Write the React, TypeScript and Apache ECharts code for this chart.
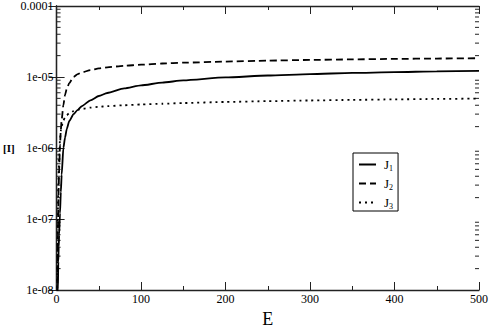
import React, { useEffect, useRef } from "react";
import * as echarts from "echarts";

// Energy values (x axis)
const energy = [0.5, 1, 1.5, 2, 2.5, 3, 4, 5, 6, 8, 10, 12, 15, 20, 25, 30, 40, 50, 60, 80, 100, 125, 150, 200, 250, 300, 350, 400, 450, 500];

// Series values
const j1 = [1e-9, 4e-9, 1e-8, 2.5e-8, 4e-8, 6e-8, 1.2e-7, 2.4e-7, 4.2e-7, 1.0e-6, 1.4e-6, 1.85e-6, 2.4e-6, 3.0e-6, 3.45e-6, 3.9e-6, 4.7e-6, 5.4e-6, 5.95e-6, 6.9e-6, 7.6e-6, 8.35e-6, 8.95e-6, 9.85e-6, 1.05e-5, 1.10e-5, 1.14e-5, 1.17e-5, 1.20e-5, 1.22e-5];
const j2 = [3e-9, 1.5e-8, 6e-8, 1.5e-7, 3e-7, 5e-7, 1.1e-6, 1.8e-6, 2.5e-6, 4.0e-6, 5.6e-6, 6.8e-6, 8.2e-6, 1.0e-5, 1.1e-5, 1.16e-5, 1.25e-5, 1.32e-5, 1.37e-5, 1.44e-5, 1.49e-5, 1.55e-5, 1.59e-5, 1.65e-5, 1.70e-5, 1.74e-5, 1.77e-5, 1.80e-5, 1.82e-5, 1.84e-5];
const j3 = [5e-9, 3e-8, 1.2e-7, 3e-7, 5e-7, 7.5e-7, 1.3e-6, 1.75e-6, 2.05e-6, 2.45e-6, 2.7e-6, 2.9e-6, 3.1e-6, 3.3e-6, 3.45e-6, 3.55e-6, 3.7e-6, 3.8e-6, 3.88e-6, 4.0e-6, 4.1e-6, 4.2e-6, 4.3e-6, 4.45e-6, 4.57e-6, 4.67e-6, 4.76e-6, 4.84e-6, 4.91e-6, 4.97e-6];

const seriesNames = ["J1", "J2", "J3"];

// Tick labels
const yTickLabels = ["1e-08", "1e-07", "1e-06", "1e-05", "0.0001"];
const yDecades = [1e-8, 1e-7, 1e-6, 1e-5];
const yMinorMultipliers = [2, 3, 4, 5, 6, 7, 8, 9];

const FONT = "'Liberation Serif', 'DejaVu Serif', serif";

export default function App() {
  const ref = useRef<HTMLDivElement>(null);
  useEffect(() => {
    if (!ref.current) return;
    const chart = echarts.init(ref.current, null, { renderer: "svg" });
    const pairs = (vals: number[]) => energy.map((e, i) => [e, vals[i]]);
    const minorData: number[][] = [];
    yDecades.forEach((d) => yMinorMultipliers.forEach((m) => minorData.push([0, m * d])));

    const axisLine = { show: true, lineStyle: { color: "#222", width: 1.3 } };
    const lineStyleBase = { color: "#000", width: 1.8 };
    const tickStyle = { color: "#222", width: 1 };

    chart.setOption({
      animation: false,
      backgroundColor: "#fff",
      grid: { left: 54, right: 10, top: 5, bottom: 31, containLabel: false },
      xAxis: [
        {
          type: "value",
          min: 0,
          max: 500,
          interval: 100,
          position: "bottom",
          name: "E",
          nameLocation: "middle",
          nameGap: 20,
          nameTextStyle: { fontFamily: FONT, fontSize: 18, color: "#000" },
          axisLine,
          axisTick: { show: true, inside: true, length: 8, lineStyle: tickStyle },
          minorTick: { show: true, splitNumber: 2, length: 4, lineStyle: tickStyle },
          axisLabel: { fontFamily: FONT, fontSize: 12, color: "#000", margin: 3 },
          splitLine: { show: false },
        },
        {
          type: "value",
          min: 0,
          max: 500,
          interval: 100,
          position: "top",
          axisLine,
          axisTick: { show: true, inside: true, length: 8, lineStyle: tickStyle },
          minorTick: { show: true, splitNumber: 2, length: 4, lineStyle: tickStyle },
          axisLabel: { show: false },
          splitLine: { show: false },
        },
      ],
      yAxis: [
        {
          type: "log",
          logBase: 10,
          min: 1e-8,
          max: 1e-4,
          position: "left",
          name: "[I]",
          nameLocation: "middle",
          nameRotate: 0,
          nameGap: 42,
          nameTextStyle: { fontFamily: FONT, fontSize: 11, fontWeight: "bold", color: "#000", padding: [12, 0, 0, 0] },
          axisLine,
          axisTick: { show: true, inside: true, length: 8, lineStyle: tickStyle },
          axisLabel: {
            fontFamily: FONT,
            fontSize: 12,
            color: "#000",
            margin: 3,
            formatter: (v: number) => yTickLabels[Math.round(Math.log10(v)) + 8] ?? "",
          },
          splitLine: { show: false },
        },
        {
          type: "log",
          logBase: 10,
          min: 1e-8,
          max: 1e-4,
          position: "right",
          axisLine,
          axisTick: { show: true, inside: true, length: 8, lineStyle: tickStyle },
          axisLabel: { show: false },
          splitLine: { show: false },
        },
      ],
      legend: {
        orient: "vertical",
        left: 353,
        top: 153,
        data: seriesNames,
        itemWidth: 17,
        itemHeight: 12,
        itemGap: 5,
        borderColor: "#000",
        borderWidth: 1,
        borderRadius: 0,
        backgroundColor: "#fff",
        padding: [5, 5, 1, 5],
        itemStyle: { color: "rgba(0,0,0,0)", borderColor: "rgba(0,0,0,0)", borderWidth: 0, opacity: 0 },
        formatter: (name: string) => `{m|J}{s|${name.slice(1)}}`,
        textStyle: {
          fontFamily: FONT,
          color: "#000",
          rich: {
            m: { fontFamily: FONT, fontSize: 13, color: "#000", padding: [0, 0, 0, 3] },
            s: { fontFamily: FONT, fontSize: 8, color: "#000", padding: [7, 0, 0, 0] },
          },
        },
      },
      series: [
        {
          name: "J1",
          type: "line",
          data: pairs(j1),
          symbol: "none",
          smooth: 0.2,
          smoothMonotone: "x",
          lineStyle: { ...lineStyleBase, type: "solid" },
          itemStyle: { color: "#000" },
        },
        {
          name: "J2",
          type: "line",
          data: pairs(j2),
          symbol: "none",
          smooth: 0.2,
          smoothMonotone: "x",
          lineStyle: { ...lineStyleBase, type: [7, 4] },
          itemStyle: { color: "#000" },
        },
        {
          name: "J3",
          type: "line",
          data: pairs(j3),
          symbol: "none",
          smooth: 0.2,
          smoothMonotone: "x",
          lineStyle: { ...lineStyleBase, type: [2, 4] },
          itemStyle: { color: "#000" },
        },
        {
          name: "yMinorTicks",
          type: "custom",
          data: minorData,
          silent: true,
          clip: false,
          renderItem: (params: any, api: any) => {
            const p = api.coord([0, api.value(1)]);
            const cs = params.coordSys;
            const style = { stroke: "#222", lineWidth: 1 };
            return {
              type: "group",
              children: [
                { type: "line", shape: { x1: cs.x, y1: p[1], x2: cs.x + 4, y2: p[1] }, style },
                { type: "line", shape: { x1: cs.x + cs.width - 4, y1: p[1], x2: cs.x + cs.width, y2: p[1] }, style },
              ],
            };
          },
        },
      ],
    });
    return () => chart.dispose();
  }, []);
  return <div ref={ref} style={{ position: "fixed", left: 0, top: 0, width: 491, height: 333 }} />;
}
